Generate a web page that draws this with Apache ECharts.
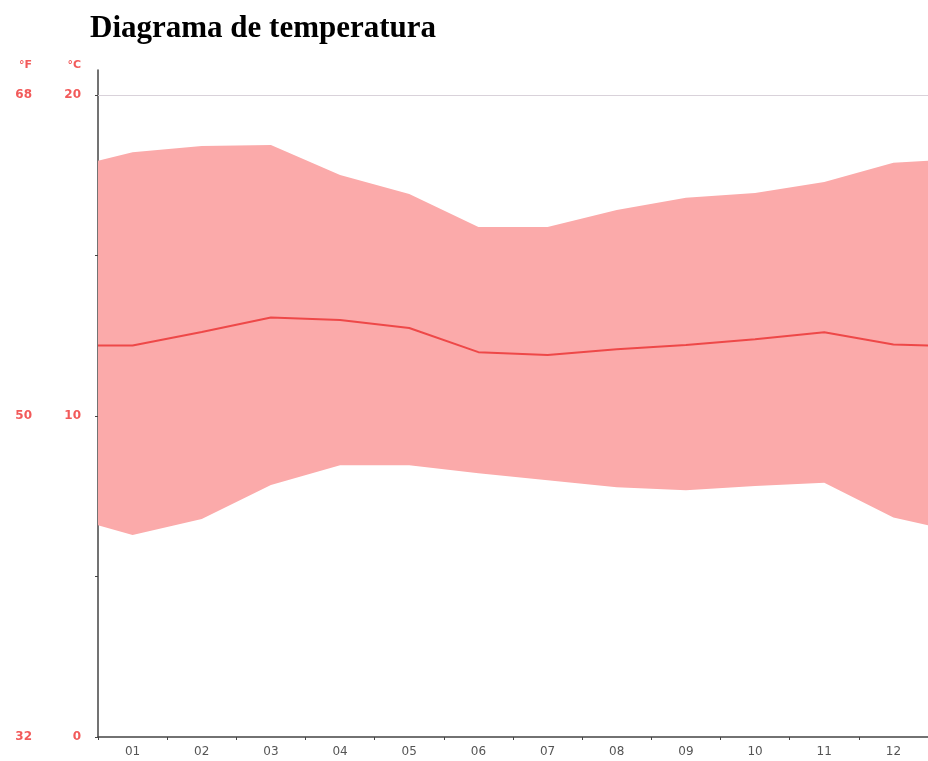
<!DOCTYPE html>
<html>
<head>
<meta charset="utf-8">
<script src="https://cdn.jsdelivr.net/npm/echarts@6/dist/echarts.min.js"></script>
<style>
  html, body { margin: 0; padding: 0; background: #fff; }
  #chart { width: 928px; height: 761px; }
</style>
</head>
<body>
<div id="chart"></div>
<script>
// months shown on the axis
const months = ['01', '02', '03', '04', '05', '06', '07', '08', '09', '10', '11', '12'];
// x positions of the points: month centres plus the two wrap-around edges
const xPos = [0.5, 1, 2, 3, 4, 5, 6, 7, 8, 9, 10, 11, 12, 12.5];
// temperatures in °C (edge points first and last)
const tMax  = [17.95, 18.22, 18.41, 18.44, 17.51, 16.92, 15.89, 15.89, 16.42, 16.8, 16.95, 17.29, 17.89, 17.95];
const tMean = [12.2, 12.2, 12.62, 13.07, 12.99, 12.74, 11.99, 11.9, 12.08, 12.21, 12.39, 12.61, 12.23, 12.2];
const tMin  = [6.6, 6.29, 6.79, 7.85, 8.47, 8.47, 8.22, 8.0, 7.78, 7.69, 7.82, 7.92, 6.84, 6.6];
// tick labels of the two scales
const celsiusTicks = [0, 10, 20];
const celsiusMinor = [0, 5, 10, 15, 20];
const fahrenheitTicks = [32, 50, 68];

const yTop = 20.78;
const red = '#f25a5a';

const chart = echarts.init(document.getElementById('chart'));

const pairs = arr => arr.map((v, i) => [xPos[i], v]);

// the min..max band as one polygon
function renderBand(params, api) {
  if (params.dataIndex !== 0) return;
  const top = xPos.map((x, i) => api.coord([x, tMax[i]]));
  const bottom = xPos.map((x, i) => api.coord([x, tMin[i]])).reverse();
  return {
    type: 'polygon',
    shape: { points: top.concat(bottom) },
    style: { fill: '#fbaaaa' }
  };
}

const unitName = { color: red, fontFamily: 'DejaVu Sans', fontWeight: 'bold', fontSize: 11, align: 'right', padding: [0, 17, 0, 0] };
const tickLabel = { color: red, fontFamily: 'DejaVu Sans', fontWeight: 'bold', fontSize: 12, margin: 17 };

chart.setOption({
  animation: false,
  title: {
    text: 'Diagrama de temperatura',
    left: 85,
    top: 8,
    textStyle: { fontFamily: 'Liberation Serif', fontWeight: 'bold', fontSize: 31, color: '#000' }
  },
  grid: { left: 98, right: -10, top: 70, bottom: 24 },
  xAxis: [{
    type: 'category',
    data: months,
    boundaryGap: true,
    axisLine: { lineStyle: { color: '#444', width: 1.5 } },
    axisTick: { show: true, interval: 0, length: 3, lineStyle: { color: '#444' } },
    axisLabel: { color: '#555', fontFamily: 'DejaVu Sans', fontSize: 12, margin: 9, interval: 0 },
    splitLine: { show: false }
  }, {
    type: 'value',
    min: 0.5,
    max: 12.5,
    show: false
  }],
  yAxis: [{
    type: 'value',
    min: 0,
    max: yTop,
    name: '°C',
    nameLocation: 'end',
    nameGap: -1,
    nameTextStyle: unitName,
    axisLine: { show: true, lineStyle: { color: '#444', width: 1.5 } },
    axisTick: { show: true, length: 3, inside: false, customValues: celsiusMinor, lineStyle: { color: '#444' } },
    axisLabel: Object.assign({ customValues: celsiusTicks }, tickLabel),
    splitLine: { show: false }
  }, {
    type: 'value',
    position: 'left',
    offset: 49,
    min: 32,
    max: 32 + yTop * 1.8,
    name: '°F',
    nameLocation: 'end',
    nameGap: -1,
    nameTextStyle: unitName,
    axisLine: { show: false },
    axisTick: { show: false },
    axisLabel: Object.assign({ customValues: fahrenheitTicks }, tickLabel),
    splitLine: { show: false }
  }],
  series: [{
    name: 'band',
    type: 'custom',
    xAxisIndex: 1,
    data: xPos.map((x, i) => [x, tMin[i], tMax[i]]),
    encode: { x: 0, y: [1, 2] },
    renderItem: renderBand,
    silent: true
  }, {
    name: 'mean',
    type: 'line',
    xAxisIndex: 1,
    data: pairs(tMean),
    symbol: 'none',
    z: 5,
    lineStyle: { color: '#ee4848', width: 2 },
    markLine: {
      silent: true,
      symbol: 'none',
      label: { show: false },
      lineStyle: { color: '#d9d2da', type: 'solid', width: 1 },
      data: [{ yAxis: 20 }]
    }
  }]
});
</script>
</body>
</html>
